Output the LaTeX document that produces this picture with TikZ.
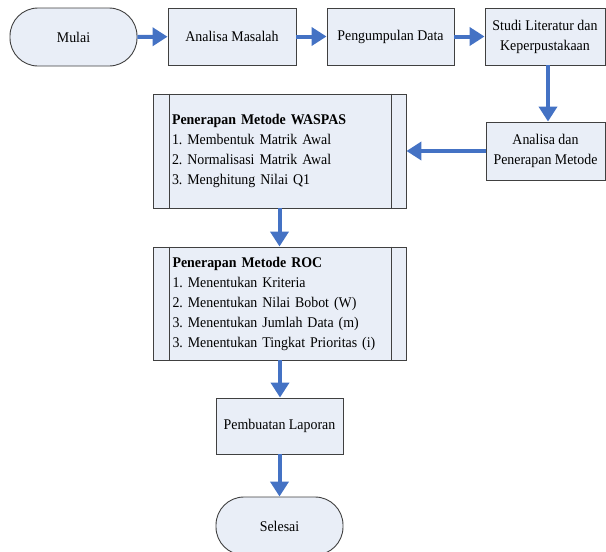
\documentclass[tikz,border=0pt]{standalone}
\usepackage{fontspec}
\setmainfont{Liberation Serif}[FakeStretch=0.94]
\usetikzlibrary{arrows.meta}
\frenchspacing
\definecolor{boxfill}{HTML}{E9EEF7}
\definecolor{boxline}{HTML}{404040}
\definecolor{arrblue}{HTML}{4472C4}
\tikzset{
  base/.style={draw=boxline, fill=boxfill, line width=0.9pt, inner sep=2pt, font=\fontsize{14.8}{20}\selectfont, align=center},
  procbox/.style={base, rectangle, minimum height=57pt},
  termbox/.style={base, rectangle, rounded corners=28pt, minimum height=58pt, minimum width=127pt},
  predbox/.style={base, rectangle, minimum width=253pt, text width=215pt, align=left},
  arr/.style={draw=arrblue, line width=4pt, -{Triangle[length=15pt,width=18pt]}, arrblue}
}
\begin{document}
\begin{tikzpicture}[x=1pt,y=1pt]
\useasboundingbox (0,0) rectangle (606,-552);
\node[termbox] (mulai) at (73.5,-37) {Mulai};
\node[procbox, minimum width=128pt] (am) at (232,-36.5) {Analisa Masalah};
\node[procbox, minimum width=127pt] (pd) at (390.5,-36.5) {Pengumpulan Data};
\node[procbox, minimum width=120pt] (sl) at (545,-36.5) {Studi Literatur dan\\Keperpustakaan};
\node[procbox, minimum width=119pt, minimum height=58pt] (ad) at (545.5,-151) {Analisa dan\\Penerapan Metode};
\node[predbox, minimum height=114pt] (ws) at (279.5,-151) {\textbf{Penerapan Metode WASPAS}\\1. Membentuk Matrik Awal\\2. Normalisasi Matrik Awal\\3. Menghitung Nilai Q1};
\draw[boxline, line width=0.9pt] ([xshift=17pt]ws.north west) -- ([xshift=17pt]ws.south west);
\draw[boxline, line width=0.9pt] ([xshift=-15pt]ws.north east) -- ([xshift=-15pt]ws.south east);
\node[predbox, minimum height=113pt] (roc) at (280,-303.5) {\textbf{Penerapan Metode ROC}\\1. Menentukan Kriteria\\2. Menentukan Nilai Bobot (W)\\3. Menentukan Jumlah Data (m)\\3. Menentukan Tingkat Prioritas (i)};
\draw[boxline, line width=0.9pt] ([xshift=16pt]roc.north west) -- ([xshift=16pt]roc.south west);
\draw[boxline, line width=0.9pt] ([xshift=-16pt]roc.north east) -- ([xshift=-16pt]roc.south east);
\node[procbox, minimum width=127pt, minimum height=56pt] (pl) at (279.5,-426) {Pembuatan Laporan};
\node[termbox] (sel) at (279.5,-526) {Selesai};
\draw[arr] (mulai) -- (am);
\draw[arr] (am) -- (pd);
\draw[arr] (pd) -- (sl);
\draw[arr] ([xshift=3pt]sl.south) -- ([xshift=3pt]sl.south |- ad.north);
\draw[arr] (ad.west) -- (ad.west -| ws.east);
\draw[arr] (ws.south) -- (ws.south |- roc.north);
\draw[arr] (roc.south) -- (roc.south |- pl.north);
\draw[arr] (pl) -- (sel);
\end{tikzpicture}
\end{document}
